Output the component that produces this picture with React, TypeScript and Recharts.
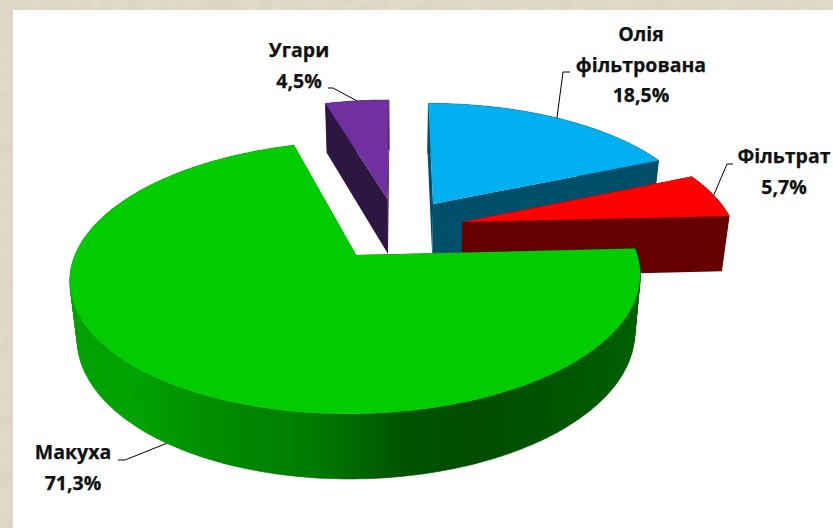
import React from "react";
import { PieChart, Pie } from "recharts";

const categories = ["Олія фільтрована", "Фільтрат", "Макуха", "Угари"];
const values = [18.5, 5.7, 71.3, 4.5];
const topColors = ["#00B0F0", "#FF0000", "#00CC00", "#7030A0"];
const sideColors = ["#004F6B", "#660000", "url(#greenSide)", "#2D1641"];

// text layout for the data labels: centre x, first baseline, leader elbow and its end
const labelLines = [["Олія", "фільтрована"], ["Фільтрат"], ["Макуха"], ["Угари"]];
const labelX = [641, 784, 73, 299];
const labelY = [41, 163, 459, 57];
const elbows = [
    [[563, 72], [570, 72]],
    [[727, 164], [733, 164]],
    [[125, 460], [118, 460]],
    [[333, 88], [328, 88]]
];

const WIDTH = 833;
const HEIGHT = 528;
const CX = 397;
const CY = 229;
const RADIUS = 272;
const SQUASH = 124 / 272;
const PERSPECTIVE = 0.16;
const EXPLODE = 0.25;
const DEPTH = 56;
const BOTTOM_SHRINK = 0.977;

const pieData = categories.map((name, i) => ({
    name,
    value: values[i],
    fill: topColors[i],
    side: sideColors[i]
}));

const rad = (deg: number) => (deg * Math.PI) / 180;

// plane point (u, v) in radius units -> screen, bottom = lower face of the disc
function project(cx: number, cy: number, r: number, u: number, v: number, bottom = false) {
    const k = 1 / (1 + PERSPECTIVE * v);
    const s = bottom ? BOTTOM_SHRINK : 1;
    return [
        cx + r * u * k * s,
        cy - r * SQUASH * v * k * s + (bottom ? DEPTH * k : 0)
    ];
}

// recharts angles run counter-clockwise from 3 o'clock
function rimPoint(cx: number, cy: number, r: number, mid: number, angle: number, bottom = false) {
    const u = EXPLODE * Math.cos(rad(mid)) + Math.cos(rad(angle));
    const v = EXPLODE * Math.sin(rad(mid)) + Math.sin(rad(angle));
    return project(cx, cy, r, u, v, bottom);
}

function apexPoint(cx: number, cy: number, r: number, mid: number, bottom = false) {
    return project(cx, cy, r, EXPLODE * Math.cos(rad(mid)), EXPLODE * Math.sin(rad(mid)), bottom);
}

const toPath = (pts: number[][]) =>
    "M" + pts.map((p) => p[0].toFixed(1) + " " + p[1].toFixed(1)).join("L") + "Z";

function Slice3D(props: any) {
    const { cx, cy, outerRadius, startAngle, endAngle, fill, payload } = props;
    const mid = (startAngle + endAngle) / 2;
    const steps = Math.ceil(Math.abs(endAngle - startAngle));
    const top: number[][] = [];
    const low: number[][] = [];
    for (let i = 0; i <= steps; i++) {
        const a = startAngle + ((endAngle - startAngle) * i) / steps;
        top.push(rimPoint(cx, cy, outerRadius, mid, a));
        low.push(rimPoint(cx, cy, outerRadius, mid, a, true));
    }
    const apex = apexPoint(cx, cy, outerRadius, mid);
    const apexLow = apexPoint(cx, cy, outerRadius, mid, true);
    const side = payload?.side ?? props.side;
    const last = top.length - 1;
    // the outer wall as one strip of quads so the silhouette stays closed
    let strip = "";
    for (let i = 0; i < last; i++) {
        strip += toPath([top[i], top[i + 1], low[i + 1], low[i]]);
    }
    return (
        <g>
            <path d={toPath([apex, top[0], low[0], apexLow])} fill={side} />
            <path d={toPath([apex, top[last], low[last], apexLow])} fill={side} />
            <path d={strip} fill={side} stroke={side} strokeWidth={0.6} />
            <path d={toPath([apex, ...top])} fill={fill} />
        </g>
    );
}

const textStyle = {
    fontFamily: "'Open Sans', sans-serif",
    fontWeight: 700,
    fontSize: 19.5,
    fill: "#111111",
    stroke: "#111111",
    strokeWidth: 0.25
};

function renderLabel(props: any) {
    const { cx, cy, outerRadius, startAngle, endAngle, index, value } = props;
    const mid = (startAngle + endAngle) / 2;
    // the Макуха leader sits on the lower edge of the wall
    const start = rimPoint(cx, cy, outerRadius, mid, mid, index === 2);
    const pts = [start, ...elbows[index]];
    const lines = [...labelLines[index], value.toFixed(1).replace(".", ",") + "%"];
    return (
        <g key={index}>
            <polyline
                points={pts.map((p) => p.join(",")).join(" ")}
                fill="none"
                stroke="#000000"
                strokeWidth={1}
            />
            {lines.map((line, i) => (
                <text
                    key={i}
                    x={labelX[index]}
                    y={labelY[index] + i * 30.5}
                    textAnchor="middle"
                    style={textStyle}
                >
                    {line}
                </text>
            ))}
        </g>
    );
}

export default function App() {
    return (
        <div style={{ position: "absolute", left: 0, top: 0, width: WIDTH, height: HEIGHT, overflow: "hidden", background: "#E2D9C8" }}>
            <svg width={WIDTH} height={HEIGHT} style={{ position: "absolute", left: 0, top: 0 }}>
                <filter id="paper" x="0" y="0" width="100%" height="100%">
                    <feTurbulence type="fractalNoise" baseFrequency="0.07 0.11" numOctaves={3} seed={4} />
                    <feColorMatrix
                        type="matrix"
                        values="0 0 0 0 0.72  0 0 0 0 0.66  0 0 0 0 0.54  1.8 1.8 0 0 -1.4"
                    />
                    <feGaussianBlur stdDeviation={1.2} />
                </filter>
                <rect width={WIDTH} height={HEIGHT} filter="url(#paper)" />
            </svg>
            <div style={{ position: "absolute", left: 13, top: 10, right: 0, bottom: 0, background: "#FFFFFF" }} />
            <div style={{ position: "absolute", left: 0, top: 0 }}>
                <PieChart width={WIDTH} height={HEIGHT} margin={{ top: 0, right: 0, bottom: 0, left: 0 }}>
                    <defs>
                        <linearGradient id="greenSide" gradientUnits="userSpaceOnUse" x1="72" y1="0" x2="640" y2="0">
                            <stop offset="0" stopColor="#00A000" />
                            <stop offset="0.1" stopColor="#00A400" />
                            <stop offset="0.25" stopColor="#008C00" />
                            <stop offset="0.42" stopColor="#007C00" />
                            <stop offset="0.58" stopColor="#005400" />
                            <stop offset="0.7" stopColor="#004C00" />
                            <stop offset="0.9" stopColor="#005800" />
                            <stop offset="1" stopColor="#006000" />
                        </linearGradient>
                    </defs>
                    <Pie
                        data={pieData}
                        dataKey="value"
                        nameKey="name"
                        cx={CX}
                        cy={CY}
                        innerRadius={0}
                        outerRadius={RADIUS}
                        startAngle={90}
                        endAngle={-270}
                        stroke="none"
                        shape={Slice3D}
                        label={renderLabel}
                        labelLine={false}
                        isAnimationActive={false}
                    />
                </PieChart>
            </div>
        </div>
    );
}
